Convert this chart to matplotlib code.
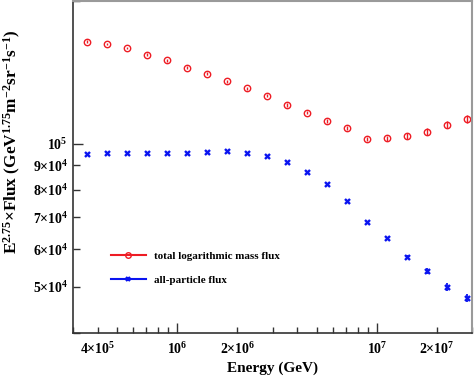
import matplotlib
matplotlib.use("Agg")
import matplotlib.pyplot as plt
from matplotlib.ticker import LogLocator, FuncFormatter, FixedLocator
from matplotlib.lines import Line2D

# ---- data ----
energy = [3.55e5, 4.47e5, 5.62e5, 7.08e5, 8.91e5, 1.12e6, 1.41e6, 1.78e6, 2.24e6, 2.82e6,
          3.55e6, 4.47e6, 5.62e6, 7.08e6, 8.91e6, 1.12e7, 1.41e7, 1.78e7, 2.24e7, 2.82e7]
lnA_flux = [1.639e5, 1.621e5, 1.588e5, 1.539e5, 1.496e5, 1.446e5, 1.403e5, 1.354e5, 1.307e5, 1.262e5,
            1.207e5, 1.163e5, 1.117e5, 1.078e5, 1.022e5, 1.027e5, 1.036e5, 1.060e5, 1.096e5, 1.126e5]
lnA_err = [1000, 1000, 1000, 1000, 1000, 1000, 1000, 1000, 1000, 1000,
           1000, 1000, 1000, 1000, 1100, 1300, 1500, 1700, 1900, 2100]
all_flux = [9.53e4, 9.54e4, 9.57e4, 9.57e4, 9.57e4, 9.57e4, 9.60e4, 9.64e4, 9.57e4, 9.44e4,
            9.15e4, 8.74e4, 8.21e4, 7.58e4, 6.84e4, 6.32e4, 5.77e4, 5.40e4, 5.00e4, 4.74e4]
all_err = [200, 200, 200, 200, 200, 200, 200, 200, 200, 200,
           200, 250, 300, 350, 400, 500, 600, 700, 900, 1000]

labels = ["total logarithmic mass flux", "all-particle flux"]
x_labeled = {4e5: r"$4{\times}10^{5}$", 1e6: r"$10^{6}$", 2e6: r"$2{\times}10^{6}$",
             1e7: r"$10^{7}$", 2e7: r"$2{\times}10^{7}$"}
y_labeled = {5e4: r"$5{\times}10^{4}$", 6e4: r"$6{\times}10^{4}$", 7e4: r"$7{\times}10^{4}$",
             8e4: r"$8{\times}10^{4}$", 9e4: r"$9{\times}10^{4}$", 1e5: r"$10^{5}$"}

# ---- style ----
plt.rcParams["font.family"] = ["Liberation Serif", "DejaVu Serif"]
plt.rcParams["font.weight"] = "bold"
plt.rcParams["mathtext.fontset"] = "custom"
plt.rcParams["mathtext.rm"] = "Liberation Serif:bold"
plt.rcParams["mathtext.it"] = "Liberation Serif:bold"
plt.rcParams["mathtext.bf"] = "Liberation Serif:bold"
plt.rcParams["mathtext.default"] = "rm"

red = "#ee1c24"
blue = "#0a14f0"

fig = plt.figure(figsize=(4.74, 3.79), dpi=100)
ax = fig.add_axes([72.7 / 474, 46 / 379, 399.6 / 474, 332.5 / 379])

ax.errorbar(energy, lnA_flux, yerr=lnA_err, fmt="o", ms=4.6, mfc="none", mec=red,
            mew=1.0, color=red, ecolor=red, elinewidth=1.0, capsize=0)
ax.errorbar(energy, all_flux, yerr=all_err, fmt="x", ms=3.6, mew=1.7, color=blue,
            ecolor=blue, elinewidth=1.3, capsize=0)

ax.set_xscale("log")
ax.set_yscale("log")
ax.set_xlim(3e5, 3e7)
ax.set_ylim(4e4, 2e5)


def lookup(table):
    return lambda v, p: next((s for k, s in table.items() if abs(v / k - 1) < 1e-6), "")


ax.xaxis.set_major_locator(FixedLocator([1e6, 1e7]))
ax.xaxis.set_minor_locator(LogLocator(base=10, subs=range(2, 10), numticks=20))
ax.xaxis.set_major_formatter(FuncFormatter(lookup(x_labeled)))
ax.xaxis.set_minor_formatter(FuncFormatter(lookup(x_labeled)))

ax.yaxis.set_major_locator(FixedLocator([1e5]))
ax.yaxis.set_minor_locator(FixedLocator([4e4, 5e4, 6e4, 7e4, 8e4, 9e4, 2e5]))
ax.yaxis.set_major_formatter(FuncFormatter(lookup(y_labeled)))
ax.yaxis.set_minor_formatter(FuncFormatter(lookup(y_labeled)))

ax.tick_params(which="both", direction="in", top=False, right=False, labelsize=10,
               width=1.0, color="#333333")
ax.tick_params(which="major", length=7)
ax.tick_params(which="minor", length=4)
ax.tick_params(axis="y", which="minor", length=5)
ax.tick_params(axis="x", which="both", pad=6)

for s in ["left", "bottom"]:
    ax.spines[s].set_color("#333333")
    ax.spines[s].set_linewidth(1.2)
for s in ["top", "right"]:
    ax.spines[s].set_color("#9a9a9a")
    ax.spines[s].set_linewidth(1.5)

ax.set_xlabel("Energy (GeV)", fontsize=11, fontweight="bold", labelpad=3)
fig.text(12 / 474, 1 - 142 / 379,
         r"E$^{2.75}$$\times$Flux (GeV$^{1.75}$m$^{-2}$sr$^{-1}$s$^{-1}$)",
         rotation=90, ha="center", va="center", fontsize=12.4, fontweight="bold")

handles = [Line2D([], [], color=red, lw=1.5, marker="o", ms=4.0, mfc="none", mec=red, mew=1.0),
           Line2D([], [], color=blue, lw=1.5, marker="x", ms=3.0, mew=1.6)]
ax.legend(handles, labels, loc="upper left", bbox_to_anchor=(0.07, 0.275), frameon=False,
          handlelength=3.2, handletextpad=0.75, labelspacing=1.25,
          prop={"weight": "bold", "size": 7.9})

fig.savefig("out.png", dpi=100)
